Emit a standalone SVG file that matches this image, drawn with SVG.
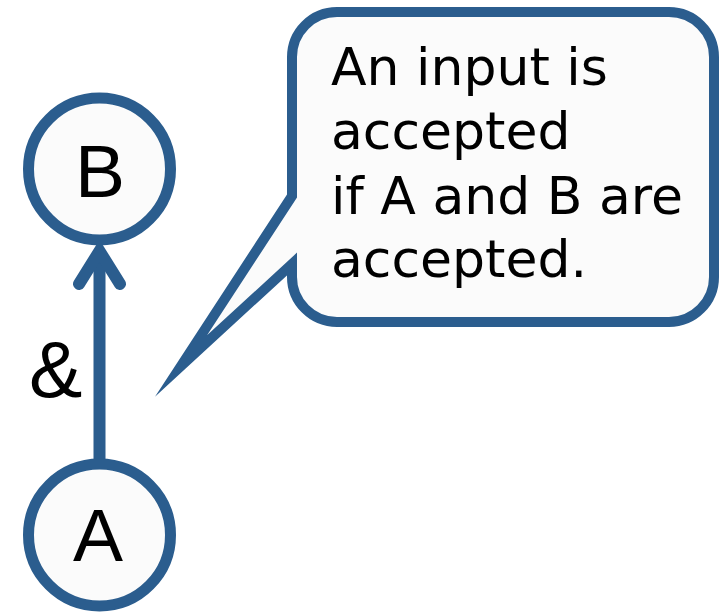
<svg xmlns="http://www.w3.org/2000/svg" width="724" height="612" viewBox="0 0 724 612">
  <style>
    .node circle { fill: #fbfbfb; stroke: #2b5d8e; stroke-width: 11; }
    .node text { font-family: "Liberation Sans", Arial, sans-serif; font-size: 75px; fill: #000; text-anchor: middle; }
    .edge { fill: none; stroke: #2b5d8e; stroke-width: 12; }
    .callout path { fill: #fbfbfb; stroke: #2b5d8e; stroke-width: 10; stroke-linejoin: miter; stroke-miterlimit: 12; }
    .callout text { font-family: "DejaVu Sans", Verdana, sans-serif; font-size: 52px; fill: #000; }
    .label { font-family: "Liberation Sans", Arial, sans-serif; font-size: 80px; fill: #000; }
  </style>

  <!-- connectors -->
  <g id="connectors">
    <line class="edge" x1="99.5" y1="462" x2="99.5" y2="258"/>
    <polyline class="edge" points="79,284 99.5,251 120,284" stroke-linecap="round" stroke-linejoin="miter"/>
    <text class="label" x="29" y="397">&amp;</text>
  </g>

  <g id="node-B" class="node">
    <circle cx="99.5" cy="169" r="71"/>
    <text x="100" y="197">B</text>
  </g>

  <g id="node-A" class="node">
    <circle cx="99.5" cy="535" r="71"/>
    <text x="98" y="561">A</text>
  </g>

  <!-- speech bubble -->
  <g id="callout" class="callout">
    <path d="M 337,12 H 669 A 45 45 0 0 1 714,57 V 277 A 45 45 0 0 1 669,322 H 337 A 45 45 0 0 1 292,277 V 264 L 181,366 L 292,196 V 57 A 45 45 0 0 1 337,12 Z"/>
    <text x="331" y="85">An input is</text>
    <text x="331" y="149">accepted</text>
    <text x="331" y="214">if A and B are</text>
    <text x="331" y="277">accepted.</text>
  </g>
</svg>
